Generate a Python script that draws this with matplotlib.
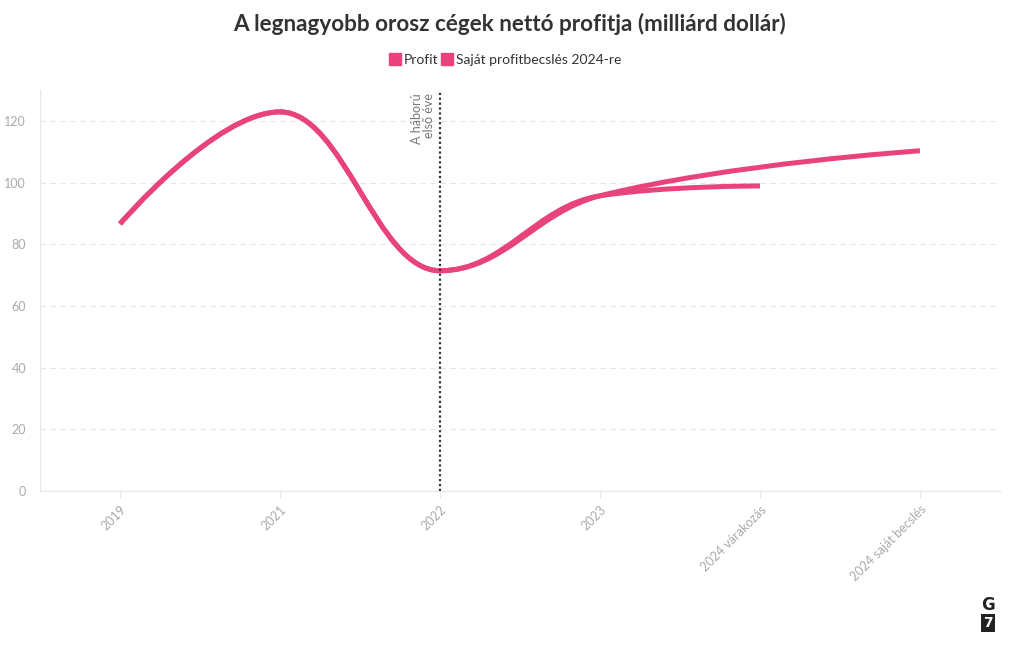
import matplotlib
matplotlib.use("Agg")
import matplotlib.pyplot as plt
from matplotlib.path import Path
from matplotlib.patches import PathPatch
from matplotlib.lines import Line2D

categories = ["2019", "2021", "2022", "2023", "2024 várakozás", "2024 saját becslés"]
profit = [86.6, 122.9, 71.4, 95.7, 98.9, None]
own_estimate = [86.6, 122.9, 71.4, 95.7, None, 110.3]
series_names = ["Profit", "Saját profitbecslés 2024-re"]
war_index = 2
war_label = "A háború\nelső éve"
title = "A legnagyobb orosz cégek nettó profitja (milliárd dollár)"
yticks = [0, 20, 40, 60, 80, 100, 120]

PINK = "#E8437B"
FONT = ["Lato", "DejaVu Sans"]


def spline_path(xs, ys, smoothing=1.5):
    """Highcharts-style spline through points, as a Bezier Path."""
    n = len(xs)
    verts = [(xs[0], ys[0])]
    codes = [Path.MOVETO]
    ctrl = []
    for i in range(n):
        if i == 0 or i == n - 1:
            ctrl.append(((xs[i], ys[i]), (xs[i], ys[i])))
            continue
        lx, ly = xs[i - 1], ys[i - 1]
        nx, ny = xs[i + 1], ys[i + 1]
        px, py = xs[i], ys[i]
        d = smoothing + 1
        lcx = (smoothing * px + lx) / d
        lcy = (smoothing * py + ly) / d
        rcx = (smoothing * px + nx) / d
        rcy = (smoothing * py + ny) / d
        corr = ((rcy - lcy) * (rcx - px)) / (rcx - lcx) + py - rcy
        lcy += corr
        rcy += corr
        if lcy > ly and lcy > py:
            lcy = max(ly, py)
            rcy = 2 * py - lcy
        elif lcy < ly and lcy < py:
            lcy = min(ly, py)
            rcy = 2 * py - lcy
        if rcy > ny and rcy > py:
            rcy = max(ny, py)
            lcy = 2 * py - rcy
        elif rcy < ny and rcy < py:
            rcy = min(ny, py)
            lcy = 2 * py - rcy
        ctrl.append(((lcx, lcy), (rcx, rcy)))
    for i in range(1, n):
        verts += [ctrl[i - 1][1], ctrl[i][0], (xs[i], ys[i])]
        codes += [Path.CURVE4] * 3
    return Path(verts, codes)


fig = plt.figure(figsize=(10.2, 6.5), dpi=100)
ax = fig.add_axes([40 / 1020, (650 - 491) / 650, 960 / 1020, 401 / 650])
ax.set_xlim(-0.5, len(categories) - 0.5)
ax.set_ylim(0, 130)

for vals in (profit, own_estimate):
    xs = [i for i, v in enumerate(vals) if v is not None]
    ys = [v for v in vals if v is not None]
    ax.add_patch(PathPatch(spline_path(xs, ys), facecolor="none", edgecolor=PINK,
                           lw=3.6, capstyle="butt", joinstyle="round", zorder=3))

# grid
for t in yticks[1:]:
    ax.axhline(t, color="#e6e6e6", lw=0.8, ls=(0, (5, 4)), zorder=0)

ax.axvline(war_index, color="#333333", lw=1.6, ls=(0, (1, 1.2)), zorder=4)
ax.text(war_index - 0.03, 129, war_label, rotation=90, ha="right", va="top",
        fontsize=9, color="#777777", family=FONT, multialignment="right",
        linespacing=1.0)

ax.set_yticks(yticks)
ax.set_xticks(range(len(categories)))
ax.set_xticklabels(categories, rotation=45, ha="right", rotation_mode="anchor",
                   fontsize=9, color="#aaaaaa", family=FONT)
for lab in ax.get_yticklabels():
    lab.set_family(FONT)
ax.tick_params(axis="y", length=0, labelsize=9, labelcolor="#aaaaaa", pad=10)
ax.tick_params(axis="x", length=5, color="#e6e6e6", pad=4)
for s in ("top", "right"):
    ax.spines[s].set_visible(False)
ax.spines["left"].set_color("#e6e6e6")
ax.spines["bottom"].set_color("#e6e6e6")

fig.text(0.5, 1 - 24 / 650, title, ha="center", va="center", fontsize=16.2,
         fontweight="bold", color="#333333", family=FONT)

handles = [Line2D([], [], marker="s", ls="none", markersize=9, color=PINK,
                  markeredgecolor=PINK) for _ in series_names]
fig.legend(handles, series_names, loc="center", bbox_to_anchor=(505 / 1020, 1 - 60 / 650),
           ncol=2, frameon=False, handletextpad=0.25, columnspacing=0.2,
           handlelength=0.8, prop={"family": FONT, "size": 10}, labelcolor="#333333")

# G7 logo
fig.text(988 / 1020, 1 - 605 / 650, "G", ha="center", va="center", fontsize=12,
         fontweight="bold", color="#222222", family="DejaVu Sans")
fig.text(988 / 1020, 1 - 623 / 650, "7", ha="center", va="center", fontsize=10,
         fontweight="bold", color="white", family="DejaVu Sans",
         bbox=dict(boxstyle="square,pad=0.15", fc="#222222", ec="none"))

fig.savefig("out.png", dpi=100, facecolor="white")
